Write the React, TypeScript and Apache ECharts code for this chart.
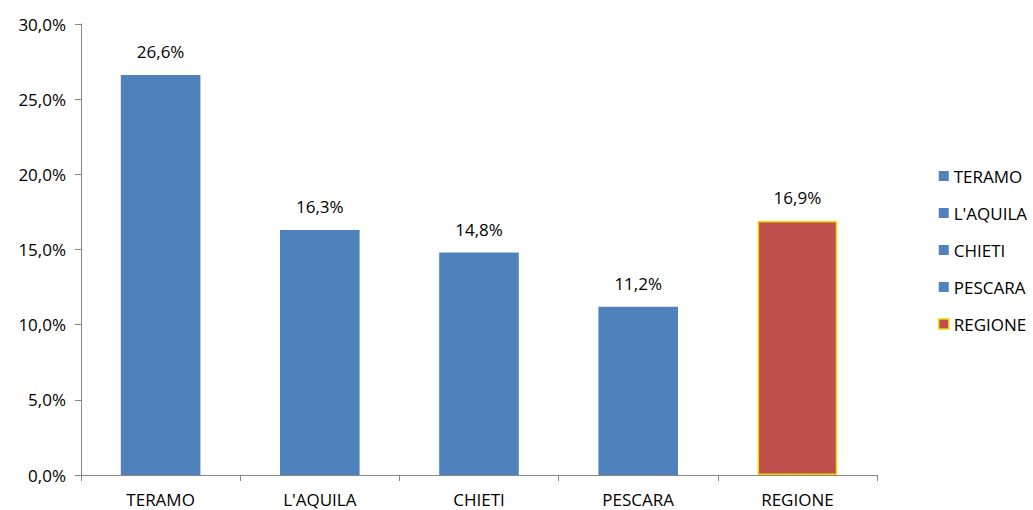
import React, { useEffect, useRef } from "react";
import * as echarts from "echarts";

const categories = ["TERAMO", "L'AQUILA", "CHIETI", "PESCARA", "REGIONE"];
const values = [26.6, 16.3, 14.8, 11.2, 16.9];
const colors = ["#4F81BD", "#4F81BD", "#4F81BD", "#4F81BD", "#C0504D"];
const borders = ["#4F81BD", "#4F81BD", "#4F81BD", "#4F81BD", "#F2D600"];
const yTicks = [0, 5, 10, 15, 20, 25, 30];

const FONT = "'Open Sans', 'Liberation Sans', sans-serif";
const FS = 17;
const fmt = (v: number) => v.toFixed(1).replace(".", ",") + "%";

export default function App() {
  const ref = useRef<HTMLDivElement>(null);
  useEffect(() => {
    if (!ref.current) return;
    const chart = echarts.init(ref.current, undefined, { renderer: "svg" });
    const series = categories.map((name, i) => ({
      name,
      type: "bar",
      stack: "all",
      barWidth: "50%",
      data: categories.map((_, j) => (j === i ? values[i] : "-")),
      itemStyle: {
        color: colors[i],
        borderColor: borders[i],
        borderWidth: i === 4 ? 1.5 : 0,
      },
      label: {
        show: true,
        position: "top",
        distance: 15,
        formatter: (p: any) => fmt(p.value),
        fontFamily: FONT,
        fontSize: FS,
        color: "#000",
      },
    }));
    chart.setOption({
      animation: false,
      textStyle: { fontFamily: FONT },
      grid: { left: 81, right: 156, top: 24, bottom: 35, containLabel: false },
      legend: {
        orient: "vertical",
        left: 933,
        top: 162,
        itemWidth: 10,
        itemHeight: 10,
        itemGap: 19,
        icon: "rect",
        textStyle: { fontFamily: FONT, fontSize: FS, lineHeight: 18, color: "#000", padding: [0, 0, 0, 0] },
        data: categories.map((c, i) => ({
          name: c,
          itemStyle: { color: colors[i], borderColor: borders[i], borderWidth: i === 4 ? 1.5 : 0 },
        })),
      },
      xAxis: {
        type: "category",
        data: categories,
        axisLine: { lineStyle: { color: "#868686", width: 1 } },
        axisTick: { show: true, alignWithLabel: false, length: 6, lineStyle: { color: "#868686" } },
        axisLabel: { fontFamily: FONT, fontSize: FS, color: "#000", margin: 16 },
      },
      yAxis: {
        type: "value",
        min: 0,
        max: yTicks[yTicks.length - 1],
        interval: 5,
        splitLine: { show: false },
        axisLine: { show: true, lineStyle: { color: "#868686", width: 1 } },
        axisTick: { show: true, length: 6, lineStyle: { color: "#868686" } },
        axisLabel: { fontFamily: FONT, fontSize: FS, color: "#000", margin: 15, formatter: (v: number) => fmt(v) },
      },
      series,
    });
    return () => chart.dispose();
  }, []);
  return <div ref={ref} style={{ width: 1033, height: 510, position: "absolute", left: 0, top: 0 }} />;
}
